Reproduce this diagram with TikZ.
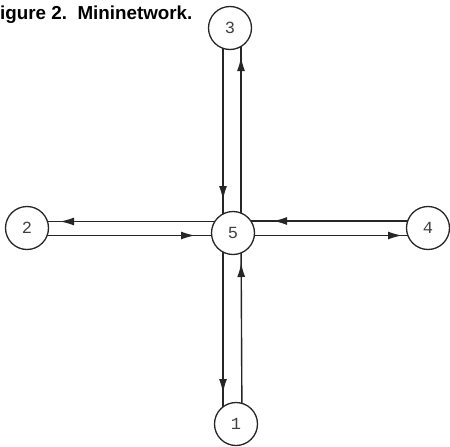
\documentclass[tikz,border=0pt]{standalone}
\usepackage{fontspec}
\setmainfont{Liberation Sans}
\newfontfamily\digitfont{Liberation Mono}
\usetikzlibrary{arrows.meta,decorations.markings,backgrounds}

\tikzset{
  station/.style={circle, draw=black!85, line width=1.3pt, fill=white,
    minimum size=43pt, inner sep=0pt, text=black!75,
    font=\digitfont\fontsize{17}{17}\selectfont},
  link/.style={draw=black!85, line width=1.4pt},
  tipat/.style={postaction={decorate, decoration={markings,
    mark=at position -#1 with {\arrow{Latex[length=14pt,width=8pt]}}}}},
  caption/.style={anchor=base west, inner sep=0pt,
    font=\bfseries\fontsize{18.8}{20}\selectfont}
}

\begin{document}
\begin{tikzpicture}[x=1pt,y=1pt]
  \useasboundingbox (0,0) rectangle (450,-447);

  \node[caption] (title) at (0,-19.5) {igure 2.\ \ Mininetwork.};

  % stations
  \node[station] (n3) at (230,-28)  {3};
  \node[station] (n5) at (233,-233) {5};
  \node[station] (n2) at (27,-228)  {2};
  \node[station] (n4) at (428,-228) {4};
  \node[station] (n1) at (236,-424) {1};

  % links, drawn beneath the stations
  \begin{scope}[on background layer]
    \draw[link, tipat=33pt] ([xshift=-7]n3.center)  -- ([xshift=-10]n5.center);
    \draw[link, tipat=29pt] ([xshift=8]n5.center)   -- ([xshift=11]n3.center);
    \draw[link, tipat=31pt] ([xshift=-10]n5.center) -- ([xshift=-13]n1.center);
    \draw[link, tipat=30pt] ([xshift=6]n1.center)   -- ([xshift=8]n5.center);
    \draw[link, tipat=33pt] ([yshift=11.5]n5.center) -- ([yshift=6.5]n2.center);
    \draw[link, tipat=38pt] ([yshift=-7.5]n2.center) -- ([yshift=-2.5]n5.center);
    \draw[link, tipat=40pt] ([yshift=7]n4.center)   -- ([yshift=12]n5.center);
    \draw[link, tipat=26pt] ([yshift=-2.5]n5.center) -- ([yshift=-7.5]n4.center);
  \end{scope}
\end{tikzpicture}
\end{document}
